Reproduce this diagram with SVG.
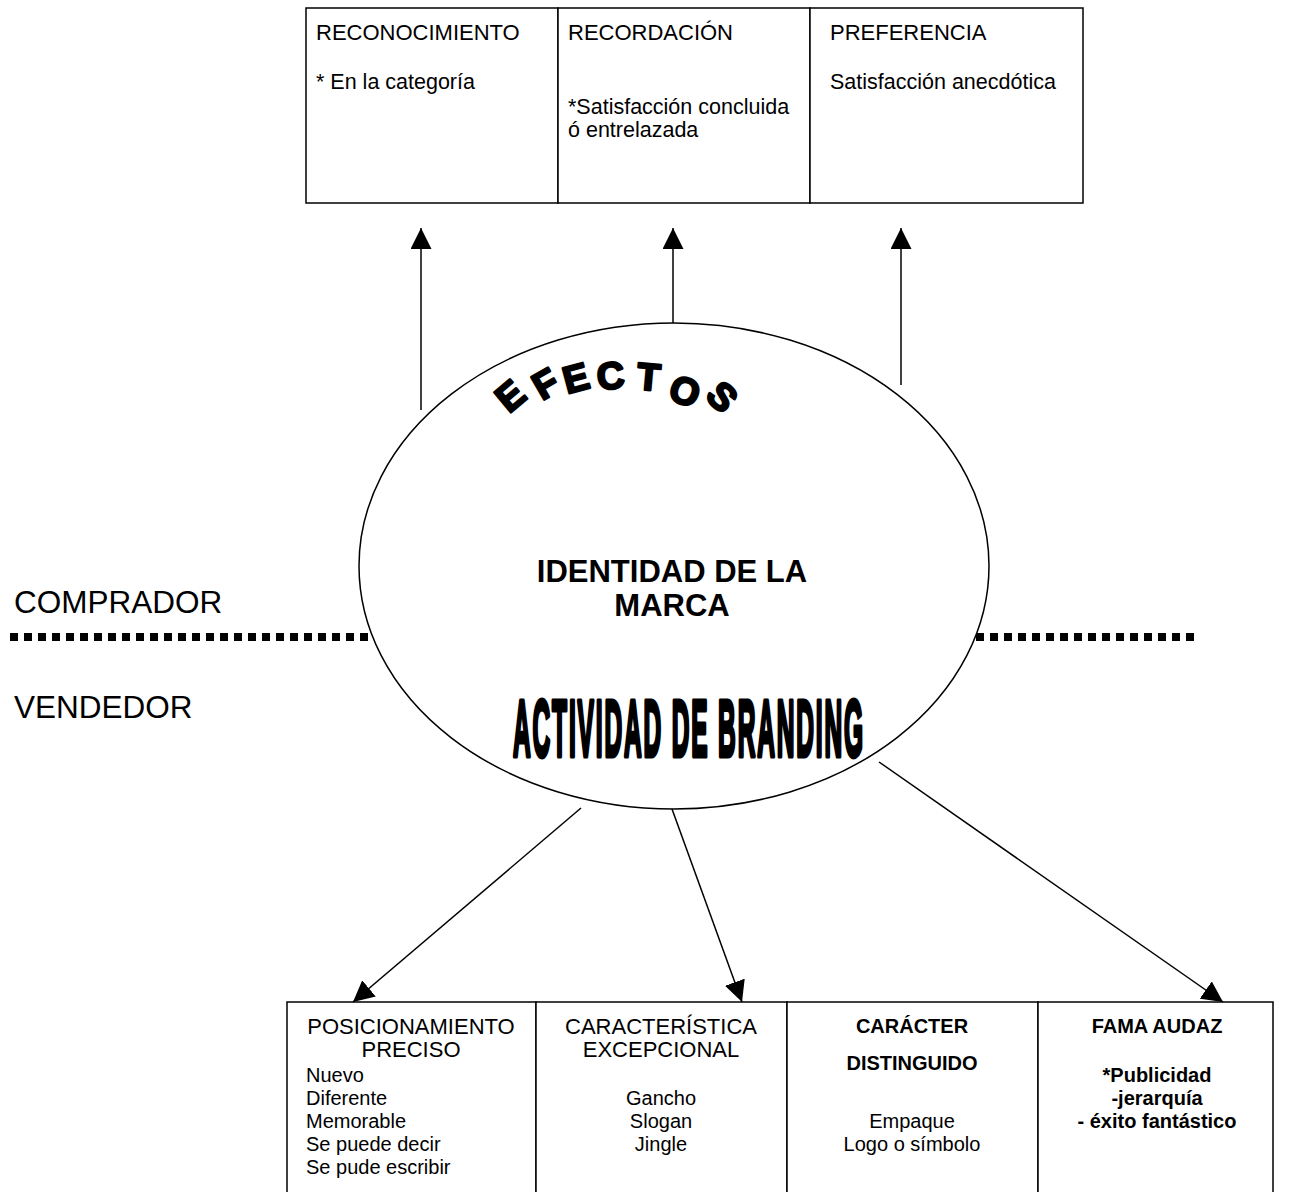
<svg xmlns="http://www.w3.org/2000/svg" width="1292" height="1192" viewBox="0 0 1292 1192">
<defs>
<marker id="ah" markerUnits="userSpaceOnUse" markerWidth="21" markerHeight="21" refX="21" refY="10.5" orient="auto" viewBox="0 0 21 21">
<path d="M0,0 L21,10.5 L0,21 z" fill="#000"/>
</marker>
<style>
text{font-family:"Liberation Sans",Arial,sans-serif;fill:#000}
.box{fill:#fff;stroke:#000;stroke-width:1.5}
.h22{font-size:22px}
.t21{font-size:21.5px}
.t20{font-size:20px}
.b{font-weight:bold}
.mid{text-anchor:middle}
.side{font-size:31.5px}
.conn{stroke:#000;stroke-width:1.5;fill:none;marker-end:url(#ah)}
</style>
</defs>
<rect width="1292" height="1192" fill="#fff"/>

<g id="divider">
<line x1="10" y1="637" x2="1197" y2="637" stroke="#000" stroke-width="8" stroke-dasharray="8 6"/>
</g>

<g id="label-comprador"><text class="side" x="14" y="613">COMPRADOR</text></g>
<g id="label-vendedor"><text class="side" x="14" y="718">VENDEDOR</text></g>

<g id="top-reconocimiento">
<rect class="box" x="306" y="8" width="252" height="195"/>
<text class="h22" x="316" y="40">RECONOCIMIENTO</text>
<text class="t21" x="316" y="89">* En la categoría</text>
</g>
<g id="top-recordacion">
<rect class="box" x="558" y="8" width="252" height="195"/>
<text class="h22" x="568" y="40">RECORDACIÓN</text>
<text class="t21" x="568" y="114">*Satisfacción concluida</text>
<text class="t21" x="568" y="137">ó entrelazada</text>
</g>
<g id="top-preferencia">
<rect class="box" x="810" y="8" width="273" height="195"/>
<text class="h22" x="830" y="40">PREFERENCIA</text>
<text class="t21" x="830" y="89">Satisfacción anecdótica</text>
</g>

<g id="identidad">
<ellipse cx="674" cy="566" rx="315" ry="243" fill="#fff" stroke="#000" stroke-width="1.5"/>
<text class="b" style="font-size:38px" stroke="#000" stroke-width="2.4" stroke-linejoin="round" x="509 542 567 598 636 666.5 704" y="414 401 394 390 389 398.5 397" rotate="-40 -30 -15 -5 5 20 45">EFECTOS</text>
<text class="b mid" style="font-size:31px" x="672" y="582">IDENTIDAD DE LA</text>
<text class="b mid" style="font-size:31px" x="672" y="616">MARCA</text>
<text class="b" style="font-size:79px;letter-spacing:6px" transform="translate(513,756) scale(0.31,1)" stroke="#000" stroke-width="5" stroke-linejoin="round">ACTIVIDAD DE BRANDING</text>
</g>

<g id="bottom-posicionamiento">
<rect class="box" x="287" y="1002" width="249" height="200"/>
<text class="h22 mid" x="411" y="1034">POSICIONAMIENTO</text>
<text class="h22 mid" x="411" y="1057">PRECISO</text>
<text class="t20" x="306" y="1082">Nuevo</text>
<text class="t20" x="306" y="1105">Diferente</text>
<text class="t20" x="306" y="1128">Memorable</text>
<text class="t20" x="306" y="1151">Se puede decir</text>
<text class="t20" x="306" y="1174">Se pude escribir</text>
</g>
<g id="bottom-caracteristica">
<rect class="box" x="536" y="1002" width="251" height="200"/>
<text class="h22 mid" x="661" y="1034">CARACTERÍSTICA</text>
<text class="h22 mid" x="661" y="1057">EXCEPCIONAL</text>
<text class="t20 mid" x="661" y="1105">Gancho</text>
<text class="t20 mid" x="661" y="1128">Slogan</text>
<text class="t20 mid" x="661" y="1151">Jingle</text>
</g>
<g id="bottom-caracter">
<rect class="box" x="787" y="1002" width="251" height="200"/>
<text class="t20 b mid" x="912" y="1033">CARÁCTER</text>
<text class="t20 b mid" x="912" y="1070">DISTINGUIDO</text>
<text class="t20 mid" x="912" y="1128">Empaque</text>
<text class="t20 mid" x="912" y="1151">Logo o símbolo</text>
</g>
<g id="bottom-fama">
<rect class="box" x="1038" y="1002" width="235" height="200"/>
<text class="t20 b mid" x="1157" y="1033">FAMA AUDAZ</text>
<text class="t20 b mid" x="1157" y="1082">*Publicidad</text>
<text class="t20 b mid" x="1157" y="1105">-jerarquía</text>
<text class="t20 b mid" x="1157" y="1128">- éxito fantástico</text>
</g>

<g id="connectors">
<line class="conn" x1="421" y1="410" x2="421" y2="228"/>
<line class="conn" x1="673" y1="323" x2="673" y2="228"/>
<line class="conn" x1="901" y1="385" x2="901" y2="228"/>
<line class="conn" x1="581" y1="808" x2="353" y2="1002"/>
<line class="conn" x1="672" y1="809" x2="742" y2="1002"/>
<line class="conn" x1="879" y1="762" x2="1223" y2="1002"/>
</g>
</svg>
